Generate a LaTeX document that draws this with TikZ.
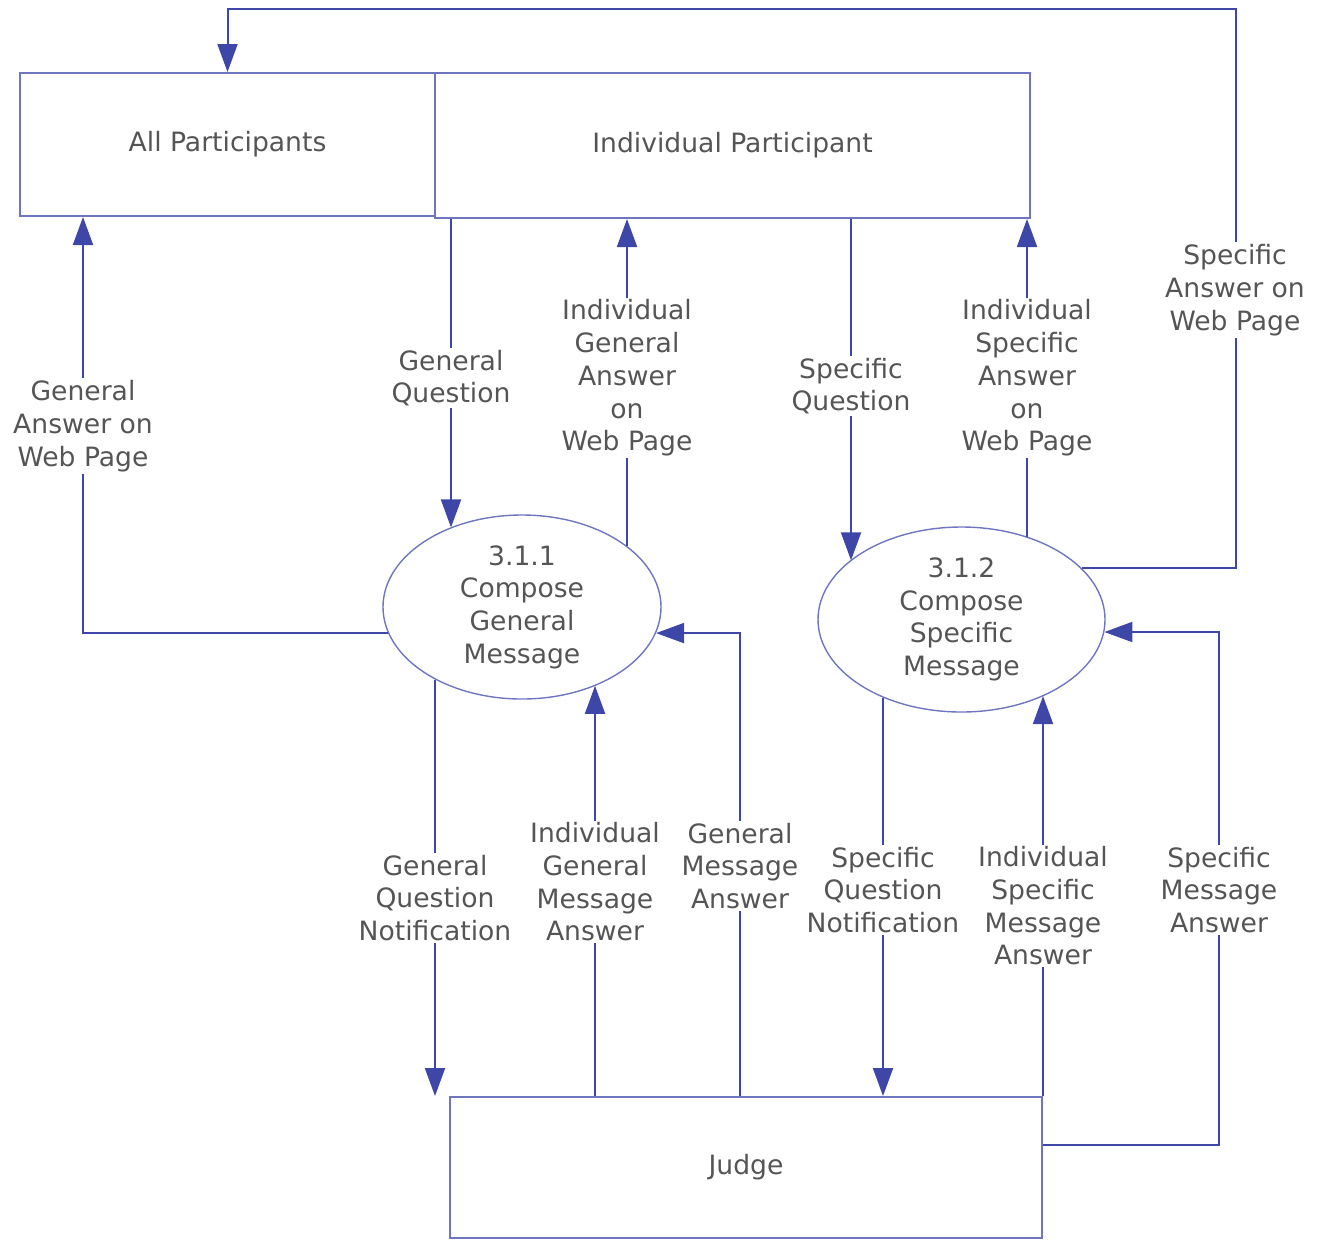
\documentclass[tikz,border=0pt]{standalone}
\usepackage{fontspec}
\setmainfont{DejaVu Sans}
\usetikzlibrary{shapes.geometric,arrows.meta}

\definecolor{flowblue}{RGB}{62,70,168}
\definecolor{boxblue}{RGB}{112,117,192}
\definecolor{textgray}{RGB}{85,85,85}

\begin{document}
\begin{tikzpicture}[x=0.5pt,y=-0.5pt,
  every node/.style={font=\fontsize{13.3pt}{16.35pt}\selectfont, text=textgray, align=center},
  entity/.style={draw=boxblue, line width=1pt, rectangle},
  process/.style={draw=boxblue, line width=0.7pt, ellipse, inner sep=0pt},
  flow/.style={draw=flowblue, line width=1pt, -{Triangle[width=10pt,length=14pt]}},
  flowlabel/.style={fill=white, inner sep=1pt}]
\useasboundingbox (0,0) rectangle (1325,1239);

% external entities
\node[entity, minimum width=207.5pt, minimum height=71.5pt] (ap) at (227.5,144.5) {All Participants};
\node[entity, minimum width=297.5pt, minimum height=72.5pt] (ip) at (732.5,145.5) {Individual Participant};
\node[entity, minimum width=296pt, minimum height=70.5pt] (jd) at (746,1167.5) {Judge};

% processes
\node[process, minimum width=139pt, minimum height=92pt] (gm) at (522,607) {3.1.1\\Compose\\General\\Message};
\node[process, minimum width=143.5pt, minimum height=92.5pt] (sm) at (961.5,619.5) {3.1.2\\Compose\\Specific\\Message};

% columns and rows of the flows
\coordinate (x-ga) at (83,0);
\coordinate (x-gq) at (451,0);
\coordinate (x-iga) at (627,0);
\coordinate (x-sq) at (851,0);
\coordinate (x-isa) at (1027,0);
\coordinate (x-gqn) at (435,0);
\coordinate (x-igm) at (595,0);
\coordinate (x-gma) at (740,0);
\coordinate (x-sqn) at (883,0);
\coordinate (x-sma) at (1219,0);
\coordinate (x-top) at (1236,0);
\coordinate (r-top) at (0,9);
\coordinate (r-sma) at (0,1145);

% flows
\path[flow] (sm.23) -| (x-top |- r-top) -| (ap.north);
\path[flow] (gm.191) -| (x-ga |- ap.south);
\path[flow] (x-gq |- ip.south) -- (x-gq |- gm.132);
\path[flow] (x-iga |- gm.30) -- (x-iga |- ip.south);
\path[flow] (x-sq |- ip.south) -- (x-sq |- sm.152);
\path[flow] (x-isa |- sm.51) -- (x-isa |- ip.south);
\path[flow] (x-gqn |- gm.220) -- (x-gqn |- jd.north);
\path[flow] (x-igm |- jd.north) -- (x-igm |- gm.313);
\path[flow] (x-gma |- jd.north) |- (gm.349);
\path[flow] (x-sqn |- sm.225) -- (x-sqn |- jd.north);
\path[flow] (jd.north east) -- (jd.north east |- sm.317);
\path[flow] (jd.east |- r-sma) -| (x-sma |- sm.355) -- (sm.355);

% flow labels
\node[flowlabel] (l-sa) at (1235,290) {Specific\\Answer on\\Web Page};
\node[flowlabel] (l-ga) at (83,426) {General\\Answer on\\Web Page};
\node[flowlabel] (l-gq) at (451,378) {General\\Question};
\node[flowlabel] (l-iga) at (627,378) {Individual\\General\\Answer\\on\\Web Page};
\node[flowlabel] (l-sq) at (851,386) {Specific\\Question};
\node[flowlabel] (l-isa) at (1027,378) {Individual\\Specific\\Answer\\on\\Web Page};
\node[flowlabel] (l-gqn) at (435,898) {General\\Question\\Notification};
\node[flowlabel] (l-igm) at (595,882) {Individual\\General\\Message\\Answer};
\node[flowlabel] (l-gma) at (740,866) {General\\Message\\Answer};
\node[flowlabel] (l-sqn) at (883,890) {Specific\\Question\\Notification};
\node[flowlabel] (l-ism) at (1043,906) {Individual\\Specific\\Message\\Answer};
\node[flowlabel] (l-sma) at (1219,890) {Specific\\Message\\Answer};
\end{tikzpicture}
\end{document}
